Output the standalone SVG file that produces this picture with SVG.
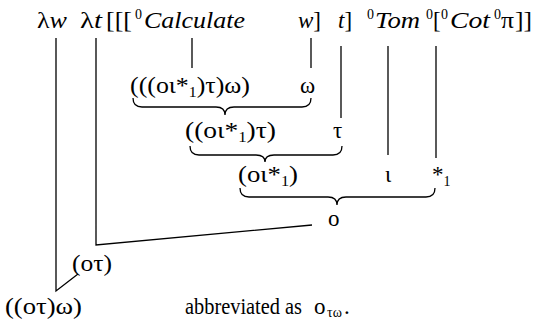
<svg xmlns="http://www.w3.org/2000/svg" width="537" height="321" viewBox="0 0 537 321">
<style>
text{font-family:"Liberation Serif","Times New Roman",serif;font-size:23px;fill:#000}
.i{font-style:italic}
.sup{font-size:14px}
.ln{stroke:#000;stroke-width:1.3;fill:none}
</style>
<rect width="537" height="321" fill="#fff"/>
<g id="term">
<text x="37" y="28" textLength="30" lengthAdjust="spacingAndGlyphs">λ<tspan class="i">w</tspan></text>
<text x="80" y="28" textLength="22" lengthAdjust="spacingAndGlyphs">λ<tspan class="i">t</tspan></text>
<text x="106" y="28" textLength="26" lengthAdjust="spacingAndGlyphs">[[[</text>
<text class="sup" x="135" y="19">0</text>
<text class="i" x="144" y="28" textLength="101" lengthAdjust="spacingAndGlyphs">Calculate</text>
<text x="298" y="28"><tspan class="i">w</tspan>]</text>
<text x="338" y="28"><tspan class="i">t</tspan>]</text>
<text class="sup" x="367" y="19">0</text>
<text class="i" x="375" y="28" textLength="45" lengthAdjust="spacingAndGlyphs">Tom</text>
<text class="sup" x="426" y="19">0</text>
<text x="433" y="28">[</text>
<text class="sup" x="441" y="19">0</text>
<text class="i" x="450" y="28" textLength="40" lengthAdjust="spacingAndGlyphs">Cot</text>
<text class="sup" x="494" y="19">0</text>
<text x="501" y="28" textLength="13" lengthAdjust="spacingAndGlyphs">π</text>
<text x="515" y="28" textLength="17" lengthAdjust="spacingAndGlyphs">]]</text>
</g>
<g id="n1"><text x="130" y="93" textLength="120" lengthAdjust="spacingAndGlyphs">(((οι*<tspan class="sup" dy="4">1</tspan><tspan dy="-4">)τ)ω)</tspan></text></g>
<g id="n2"><text x="300" y="93">ω</text></g>
<g id="n3"><text x="185" y="138" textLength="91" lengthAdjust="spacingAndGlyphs">((οι*<tspan class="sup" dy="4">1</tspan><tspan dy="-4">)τ)</tspan></text></g>
<g id="n4"><text x="333" y="138">τ</text></g>
<g id="n5"><text x="238" y="182" textLength="60" lengthAdjust="spacingAndGlyphs">(οι*<tspan class="sup" dy="4">1</tspan><tspan dy="-4">)</tspan></text></g>
<g id="n6"><text x="385" y="182">ι</text></g>
<g id="n7"><text x="432" y="182">*<tspan class="sup" dy="4">1</tspan></text></g>
<g id="n8"><text x="328" y="226">ο</text></g>
<g id="n9"><text x="72" y="271" textLength="40" lengthAdjust="spacingAndGlyphs">(οτ)</text></g>
<g id="n10"><text x="5" y="314" textLength="77" lengthAdjust="spacingAndGlyphs">((οτ)ω)</text></g>
<g id="caption">
<text x="185" y="314" textLength="117" lengthAdjust="spacingAndGlyphs">abbreviated as</text>
<text x="314" y="314">ο</text>
<text class="sup" x="327" y="317">τω</text>
<text x="344" y="314">.</text>
</g>
<g id="connectors">
<path class="ln" d="M56 38V291L78 274"/>
<path class="ln" d="M96 38V245L312 225"/>
<path class="ln" d="M192 38V68"/>
<path class="ln" d="M311 38V68"/>
<path class="ln" d="M341 46V118"/>
<path class="ln" d="M388 46V155"/>
<path class="ln" d="M436 46V158"/>
<path class="ln" d="M133 98Q133 107 142 107H216Q225 107 225 115Q225 107 234 107H302Q311 107 311 98"/>
<path class="ln" d="M190 146Q190 155 199 155H256Q265 155 265 162Q265 155 274 155H333Q342 155 342 146"/>
<path class="ln" d="M240 188Q240 197 249 197H328Q337 197 337 205Q337 197 346 197H426Q435 197 435 188"/>
</g>
</svg>
